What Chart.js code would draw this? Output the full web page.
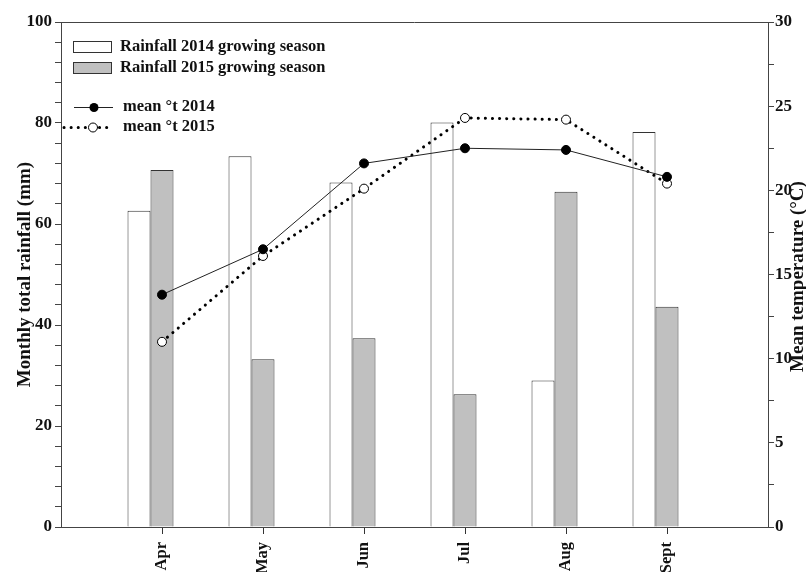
<!DOCTYPE html>
<html><head><meta charset="utf-8">
<script src="https://cdn.jsdelivr.net/npm/chart.js@4/dist/chart.umd.min.js"></script>
<style>html,body{margin:0;padding:0;background:#fff;overflow:hidden}</style>
</head><body>
<canvas id="c" width="806" height="572"></canvas>
<script>
// ---- data ----
const months = ['', 'Apr', 'May', 'Jun', 'Jul', 'Aug', 'Sept', ''];
const rain2014 = [null, 62.6, 73.4, 68.2, 80.1, 29.0, 78.2, null];
const rain2015 = [null, 70.7, 33.2, 37.4, 26.3, 66.4, 43.6, null];
const temp2014 = [null, 13.8, 16.5, 21.6, 22.5, 22.4, 20.8, null];
const temp2015 = [null, 11.0, 16.1, 20.1, 24.3, 24.2, 20.4, null];
const spacer = [0, 0, 0, 0, 0, 0, 0, 0];
const rainTicks = [0, 20, 40, 60, 80, 100];
const tempTicks = [0, 5, 10, 15, 20, 25, 30];
const legendLabels = ['Rainfall 2014 growing season', 'Rainfall 2015 growing season', 'mean \u00b0t 2014', 'mean \u00b0t 2015'];
const leftTitle = 'Monthly total rainfall (mm)';
const rightTitle = 'Mean temperature (\u00b0C)';

const FAM = '"Liberation Serif", "Times New Roman", serif';
const AX = '#444';
const TXT = '#111';

const extras = {
  id: 'extras',
  afterDraw(chart) {
    const ctx = chart.ctx;
    const a = chart.chartArea;
    ctx.save();
    // top frame line
    ctx.strokeStyle = AX; ctx.lineWidth = 1;
    const ty = Math.round(a.top) + 0.5;
    ctx.beginPath(); ctx.moveTo(a.left, ty); ctx.lineTo(a.right, ty); ctx.stroke();

    // legend
    const L = a.left;
    ctx.font = 'bold 16.5px ' + FAM;
    ctx.fillStyle = TXT; ctx.textBaseline = 'middle'; ctx.textAlign = 'left';
    ctx.strokeStyle = '#333'; ctx.lineWidth = 1;
    ctx.fillStyle = '#ffffff';
    ctx.fillRect(L + 12.5, 41.5, 38, 11); ctx.strokeRect(L + 12.5, 41.5, 38, 11);
    ctx.fillStyle = '#c0c0c0';
    ctx.fillRect(L + 12.5, 62.5, 38, 11); ctx.strokeRect(L + 12.5, 62.5, 38, 11);
    ctx.fillStyle = TXT;
    ctx.fillText(legendLabels[0], L + 59, 47);
    ctx.fillText(legendLabels[1], L + 59, 68);
    // solid line item
    ctx.strokeStyle = '#222'; ctx.lineWidth = 1;
    ctx.beginPath(); ctx.moveTo(L + 13, 107.5); ctx.lineTo(L + 52, 107.5); ctx.stroke();
    ctx.fillStyle = '#000';
    ctx.beginPath(); ctx.arc(L + 33, 107.5, 4.5, 0, Math.PI * 2); ctx.fill();
    ctx.fillStyle = TXT;
    ctx.fillText(legendLabels[2], L + 62, 107);
    // dotted line item
    ctx.strokeStyle = '#000'; ctx.lineWidth = 3; ctx.lineCap = 'round';
    ctx.setLineDash([0.1, 7]);
    ctx.beginPath(); ctx.moveTo(L + 3, 127.5); ctx.lineTo(L + 50, 127.5); ctx.stroke();
    ctx.setLineDash([]);
    ctx.fillStyle = '#fff'; ctx.strokeStyle = '#000'; ctx.lineWidth = 1;
    ctx.beginPath(); ctx.arc(L + 32, 127.5, 4.5, 0, Math.PI * 2); ctx.fill(); ctx.stroke();
    ctx.fillStyle = TXT;
    ctx.fillText(legendLabels[3], L + 62, 127);

    // right axis title (reads bottom to top)
    ctx.font = 'bold 19px ' + FAM;
    ctx.translate(798.5, (a.top + a.bottom) / 2 + 2);
    ctx.rotate(-Math.PI / 2);
    ctx.textAlign = 'center'; ctx.textBaseline = 'middle';
    ctx.fillText(rightTitle, 0, 0);
    ctx.restore();
  }
};

new Chart(document.getElementById('c'), {
  data: {
    labels: months,
    datasets: [
      { type: 'line', label: legendLabels[2], data: temp2014, yAxisID: 'y1', order: 0,
        borderColor: '#222', borderWidth: 1, pointRadius: 4.5, pointBackgroundColor: '#000',
        pointBorderColor: '#000', pointBorderWidth: 1, tension: 0 },
      { type: 'line', label: legendLabels[3], data: temp2015, yAxisID: 'y1', order: 1,
        borderColor: '#000', borderWidth: 3, borderDash: [0.1, 7], borderCapStyle: 'round',
        pointRadius: 4.5, pointBackgroundColor: '#fff', pointBorderColor: '#000', pointBorderWidth: 1, tension: 0 },
      { type: 'bar', label: legendLabels[0], data: rain2014, yAxisID: 'y', order: 2,
        backgroundColor: '#ffffff', borderColor: '#333', borderWidth: 1,
        categoryPercentage: 0.683, barPercentage: 1.0 },
      { type: 'bar', label: legendLabels[1], data: rain2015, yAxisID: 'y', order: 2,
        backgroundColor: '#c0c0c0', borderColor: '#333', borderWidth: 1,
        categoryPercentage: 0.683, barPercentage: 1.0 },
      { type: 'bar', label: 'spacer', data: spacer, yAxisID: 'y', order: 2,
        backgroundColor: 'rgba(0,0,0,0)', borderWidth: 0,
        categoryPercentage: 0.683, barPercentage: 1.0 }
    ]
  },
  options: {
    responsive: false,
    devicePixelRatio: 1,
    animation: false,
    layout: { padding: { top: 22, left: 0, right: 0, bottom: 0 } },
    plugins: { legend: { display: false }, tooltip: { enabled: false } },
    scales: {
      x: {
        type: 'category', offset: false,
        grid: { offset: false, drawOnChartArea: false, drawTicks: true, tickLength: 7, tickWidth: 1,
          tickColor: (c) => (c.index === 0 || c.index === months.length - 1) ? 'rgba(0,0,0,0)' : '#333' },
        border: { display: true, color: AX, width: 1 },
        ticks: { autoSkip: false, minRotation: 90, maxRotation: 90, padding: 8,
          color: TXT, font: { family: FAM, size: 16.5, weight: 'bold' } },
        afterFit(s) { s.height = 45; }
      },
      y: {
        position: 'left', min: 0, max: 100,
        grid: { drawOnChartArea: false, drawTicks: true, tickLength: 6, tickColor: AX },
        border: { display: true, color: AX, width: 1 },
        ticks: { stepSize: 4, autoSkip: false, padding: 3, color: TXT,
          font: { family: FAM, size: 17, weight: 'bold' },
          callback: (v) => rainTicks.includes(v) ? String(v) : '' },
        title: { display: true, text: leftTitle, color: TXT, align: 'center',
          font: { family: FAM, size: 19, weight: 'bold' }, padding: { top: 14, bottom: 0 } },
        afterFit(s) { s.width = 61; }
      },
      y1: {
        position: 'right', min: 0, max: 30,
        grid: { drawOnChartArea: false, drawTicks: true, tickLength: 6, tickColor: AX },
        border: { display: true, color: AX, width: 1 },
        ticks: { stepSize: 2.5, autoSkip: false, padding: 1, color: TXT,
          font: { family: FAM, size: 17, weight: 'bold' },
          callback: (v) => tempTicks.includes(v) ? String(v) : '' },
        afterFit(s) { s.width = 38; }
      }
    }
  },
  plugins: [extras]
});
</script>
</body></html>
